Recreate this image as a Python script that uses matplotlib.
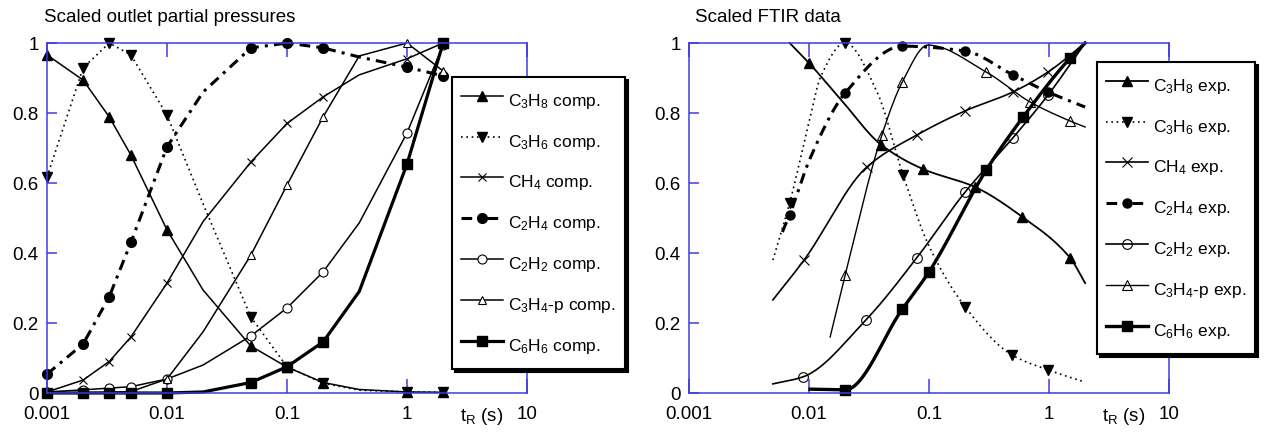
import numpy as np
import matplotlib
matplotlib.use("Agg")
import matplotlib.pyplot as plt
from matplotlib.lines import Line2D

#####################################################################
# Data

# left panel: computed outlet partial pressures (scaled)
t_comp = [0.001, 0.002, 0.0033, 0.005, 0.01, 0.02, 0.05, 0.1, 0.2, 0.4, 1, 2]
comp_marked = [0, 1, 2, 3, 4, 6, 7, 8, 10, 11]

c3h8_comp = [0.966, 0.894, 0.789, 0.68, 0.466, 0.294, 0.134, 0.074, 0.03, 0.01, 0.003, 0.002]
c3h6_comp = [0.617, 0.929, 1.0, 0.966, 0.794, 0.54, 0.217, 0.075, 0.028, 0.008, 0.003, 0.002]
ch4_comp = [0.003, 0.037, 0.09, 0.16, 0.314, 0.49, 0.66, 0.77, 0.846, 0.909, 0.955, 1.0]
c2h4_comp = [0.054, 0.14, 0.275, 0.43, 0.703, 0.86, 0.986, 1.0, 0.986, 0.96, 0.931, 0.906]
c2h2_comp = [0.003, 0.009, 0.014, 0.018, 0.04, 0.08, 0.163, 0.243, 0.346, 0.486, 0.743, 0.995]
c3h4p_comp = [0.0, 0.001, 0.002, 0.004, 0.04, 0.175, 0.394, 0.594, 0.789, 0.963, 1.0, 0.92]
c6h6_comp = [0.0, 0.0, 0.0, 0.0, 0.0, 0.003, 0.03, 0.075, 0.146, 0.29, 0.654, 1.0]

# right panel: FTIR data (scaled), smoothed curves, markers on measured points
c3h8_exp_t = [0.0069, 0.01, 0.0192, 0.04, 0.089, 0.24, 0.6, 1.5, 2.0]
c3h8_exp = [1.0, 0.943, 0.831, 0.709, 0.64, 0.589, 0.503, 0.386, 0.314]
c3h8_exp_marked = [1, 3, 4, 5, 6, 7]

c3h6_exp_t = [0.005, 0.0069, 0.0102, 0.0124, 0.02, 0.0369, 0.0607, 0.1, 0.2, 0.49, 0.98, 2.0]
c3h6_exp = [0.38, 0.543, 0.786, 0.9, 1.0, 0.86, 0.623, 0.42, 0.246, 0.109, 0.066, 0.031]
c3h6_exp_marked = [1, 4, 6, 8, 9, 10]

ch4_exp_t = [0.005, 0.0091, 0.0304, 0.079, 0.2, 0.5, 0.98, 2.0]
ch4_exp = [0.266, 0.38, 0.646, 0.737, 0.806, 0.86, 0.917, 1.0]
ch4_exp_marked = [1, 2, 3, 4, 5, 6]

c2h4_exp_t = [0.006, 0.0069, 0.0102, 0.02, 0.06, 0.2, 0.5, 0.98, 2.0]
c2h4_exp = [0.46, 0.509, 0.67, 0.857, 0.991, 0.977, 0.909, 0.86, 0.817]
c2h4_exp_marked = [1, 3, 4, 5, 6, 7]

c2h2_exp_t = [0.005, 0.0089, 0.030, 0.079, 0.2, 0.5, 0.98, 2.0]
c2h2_exp = [0.026, 0.046, 0.21, 0.386, 0.574, 0.729, 0.851, 1.0]
c2h2_exp_marked = [1, 2, 3, 4, 5, 6]

c3h4p_exp_t = [0.015, 0.02, 0.0405, 0.06, 0.098, 0.3, 0.7, 1.5, 2.0]
c3h4p_exp = [0.16, 0.337, 0.737, 0.889, 0.994, 0.917, 0.831, 0.777, 0.76]
c3h4p_exp_marked = [1, 2, 3, 5, 6, 7]

c6h6_exp_t = [0.0102, 0.02, 0.06, 0.1, 0.3, 0.61, 1.5, 2.0]
c6h6_exp = [0.011, 0.009, 0.24, 0.346, 0.637, 0.789, 0.957, 1.0]
c6h6_exp_marked = [1, 2, 3, 4, 5, 6]

x_ticks = [0.001, 0.01, 0.1, 1, 10]
x_ticklabels = ['0.001', '0.01', '0.1', '1', '10']
y_ticks = [0, 0.2, 0.4, 0.6, 0.8, 1]
y_ticklabels = ['0', '0.2', '0.4', '0.6', '0.8', '1']

comp_labels = ['C$_3$H$_8$ comp.', 'C$_3$H$_6$ comp.', 'CH$_4$ comp.', 'C$_2$H$_4$ comp.',
               'C$_2$H$_2$ comp.', 'C$_3$H$_4$-p comp.', 'C$_6$H$_6$ comp.']
exp_labels = ['C$_3$H$_8$ exp.', 'C$_3$H$_6$ exp.', 'CH$_4$ exp.', 'C$_2$H$_4$ exp.',
              'C$_2$H$_2$ exp.', 'C$_3$H$_4$-p exp.', 'C$_6$H$_6$ exp.']

#####################################################################
# Fonts and styles

font = 'Liberation Sans'
plt.rcParams['font.family'] = [font, 'DejaVu Sans']
plt.rcParams['mathtext.fontset'] = 'custom'
plt.rcParams['mathtext.rm'] = font
plt.rcParams['mathtext.it'] = font
plt.rcParams['mathtext.bf'] = font
FS = 13.5
LEG_FS = 12.5

BLUE = '#3c3ce6'
dotted = (0, (1.0, 2.2))
dashdot = (0, (3.5, 2.0, 1.0, 2.0))

comp_styles = [
    dict(color='k', lw=1.1, ls='-', marker='^', ms=7, mfc='k', mec='k'),
    dict(color='k', lw=1.2, ls=dotted, marker='v', ms=7, mfc='k', mec='k'),
    dict(color='k', lw=1.1, ls='-', marker='x', ms=6, mec='k', mew=0.8),
    dict(color='k', lw=2.2, ls=dashdot, marker='o', ms=7, mfc='k', mec='k'),
    dict(color='k', lw=1.1, ls='-', marker='o', ms=6.5, mfc='w', mec='k', mew=0.8),
    dict(color='k', lw=1.1, ls='-', marker='^', ms=5.5, mfc='w', mec='k', mew=0.8),
    dict(color='k', lw=2.3, ls='-', marker='s', ms=7, mfc='k', mec='k'),
]
exp_styles = [
    dict(color='k', lw=1.3, ls='-', marker='^', ms=6.5, mfc='k', mec='k'),
    dict(color='k', lw=1.2, ls=dotted, marker='v', ms=6.5, mfc='k', mec='k'),
    dict(color='k', lw=1.2, ls='-', marker='x', ms=6.5, mec='k', mew=0.8),
    dict(color='k', lw=2.2, ls=dashdot, marker='o', ms=6.5, mfc='k', mec='k'),
    dict(color='k', lw=1.2, ls='-', marker='o', ms=7, mfc='none', mec='k', mew=0.8),
    dict(color='k', lw=1.0, ls='-', marker='^', ms=6.5, mfc='none', mec='k', mew=0.8),
    dict(color='k', lw=2.4, ls='-', marker='s', ms=7, mfc='k', mec='k'),
]


def pchip_curve(xs, ys, n=30):
    # monotone cubic through the points, in log10(x) space
    lx = np.log10(np.asarray(xs, float))
    y = np.asarray(ys, float)
    h = np.diff(lx)
    d = np.diff(y) / h
    m = np.zeros_like(y)
    m[0], m[-1] = d[0], d[-1]
    for k in range(1, len(y) - 1):
        if d[k - 1] * d[k] > 0:
            w1 = 2 * h[k] + h[k - 1]
            w2 = h[k] + 2 * h[k - 1]
            m[k] = (w1 + w2) / (w1 / d[k - 1] + w2 / d[k])
    cx, cy = [], []
    for k in range(len(h)):
        t = np.linspace(0, 1, n, endpoint=False)
        h00 = 2 * t**3 - 3 * t**2 + 1
        h10 = t**3 - 2 * t**2 + t
        h01 = -2 * t**3 + 3 * t**2
        h11 = t**3 - t**2
        cx.append(lx[k] + t * h[k])
        cy.append(h00 * y[k] + h10 * h[k] * m[k] + h01 * y[k + 1] + h11 * h[k] * m[k + 1])
    cx.append([lx[-1]])
    cy.append([y[-1]])
    return 10 ** np.concatenate(cx), np.concatenate(cy), n


def style_axes(ax):
    ax.set_xscale('log')
    ax.set_xlim(0.001, 10)
    ax.set_ylim(0, 1)
    ax.set_xticks(x_ticks)
    ax.set_xticklabels(x_ticklabels)
    ax.xaxis.set_minor_locator(matplotlib.ticker.NullLocator())
    ax.set_yticks(y_ticks)
    ax.set_yticklabels(y_ticklabels)
    for s in ax.spines.values():
        s.set_color(BLUE)
        s.set_linewidth(1.1)
    ax.tick_params(axis='x', direction='in', top=True, bottom=True, length=10,
                   width=1.1, color=BLUE, labelsize=FS, pad=9)
    ax.tick_params(axis='y', direction='in', left=True, right=False, length=7,
                   width=1.1, color=BLUE, labelsize=FS, pad=6)
    ax.text(0.905, -0.068, 't$_R$ (s)', transform=ax.transAxes, ha='center',
            va='center', fontsize=FS)


def add_legend(ax, labels, styles, x, y):
    handles = [Line2D([], [], **st) for st in styles]
    leg = ax.legend(handles, labels, loc='upper left', bbox_to_anchor=(x, y),
                    bbox_transform=ax.figure.transFigure, borderaxespad=0,
                    fontsize=LEG_FS, numpoints=1, handlelength=2.45, handletextpad=0.3,
                    handleheight=2.2, labelspacing=0.68, borderpad=0.5,
                    fancybox=False, framealpha=1, edgecolor='k',
                    shadow={'color': 'k', 'alpha': 1})
    leg.get_frame().set_linewidth(1.5)
    return leg


fig = plt.figure(figsize=(12.65, 4.4), dpi=100)
ax1 = fig.add_axes([47 / 1265, 47 / 440, 480 / 1265, 350 / 440])
ax2 = fig.add_axes([689 / 1265, 47 / 440, 480 / 1265, 350 / 440])

#####################################################################
# Left panel

comp_series = [c3h8_comp, c3h6_comp, ch4_comp, c2h4_comp, c2h2_comp, c3h4p_comp, c6h6_comp]
for vals, st in zip(comp_series, comp_styles):
    ax1.plot(t_comp, vals, markevery=comp_marked, clip_on=False, **st)
style_axes(ax1)
add_legend(ax1, comp_labels, comp_styles, 452 / 1265, 1 - 77 / 440)
fig.text(44 / 1265, 1 - 17 / 440, 'Scaled outlet partial pressures', fontsize=FS,
         ha='left', va='center')

#####################################################################
# Right panel

exp_series = [
    (c3h8_exp_t, c3h8_exp, c3h8_exp_marked),
    (c3h6_exp_t, c3h6_exp, c3h6_exp_marked),
    (ch4_exp_t, ch4_exp, ch4_exp_marked),
    (c2h4_exp_t, c2h4_exp, c2h4_exp_marked),
    (c2h2_exp_t, c2h2_exp, c2h2_exp_marked),
    (c3h4p_exp_t, c3h4p_exp, c3h4p_exp_marked),
    (c6h6_exp_t, c6h6_exp, c6h6_exp_marked),
]
for (tt, vals, marked), st in zip(exp_series, exp_styles):
    cx, cy, n = pchip_curve(tt, vals)
    ax2.plot(cx, cy, markevery=[i * n for i in marked], clip_on=False, **st)
style_axes(ax2)
add_legend(ax2, exp_labels, exp_styles, 1097 / 1265, 1 - 62 / 440)
fig.text(695 / 1265, 1 - 18 / 440, 'Scaled FTIR data', fontsize=FS,
         ha='left', va='center')

plt.savefig('out.png', dpi=100)
